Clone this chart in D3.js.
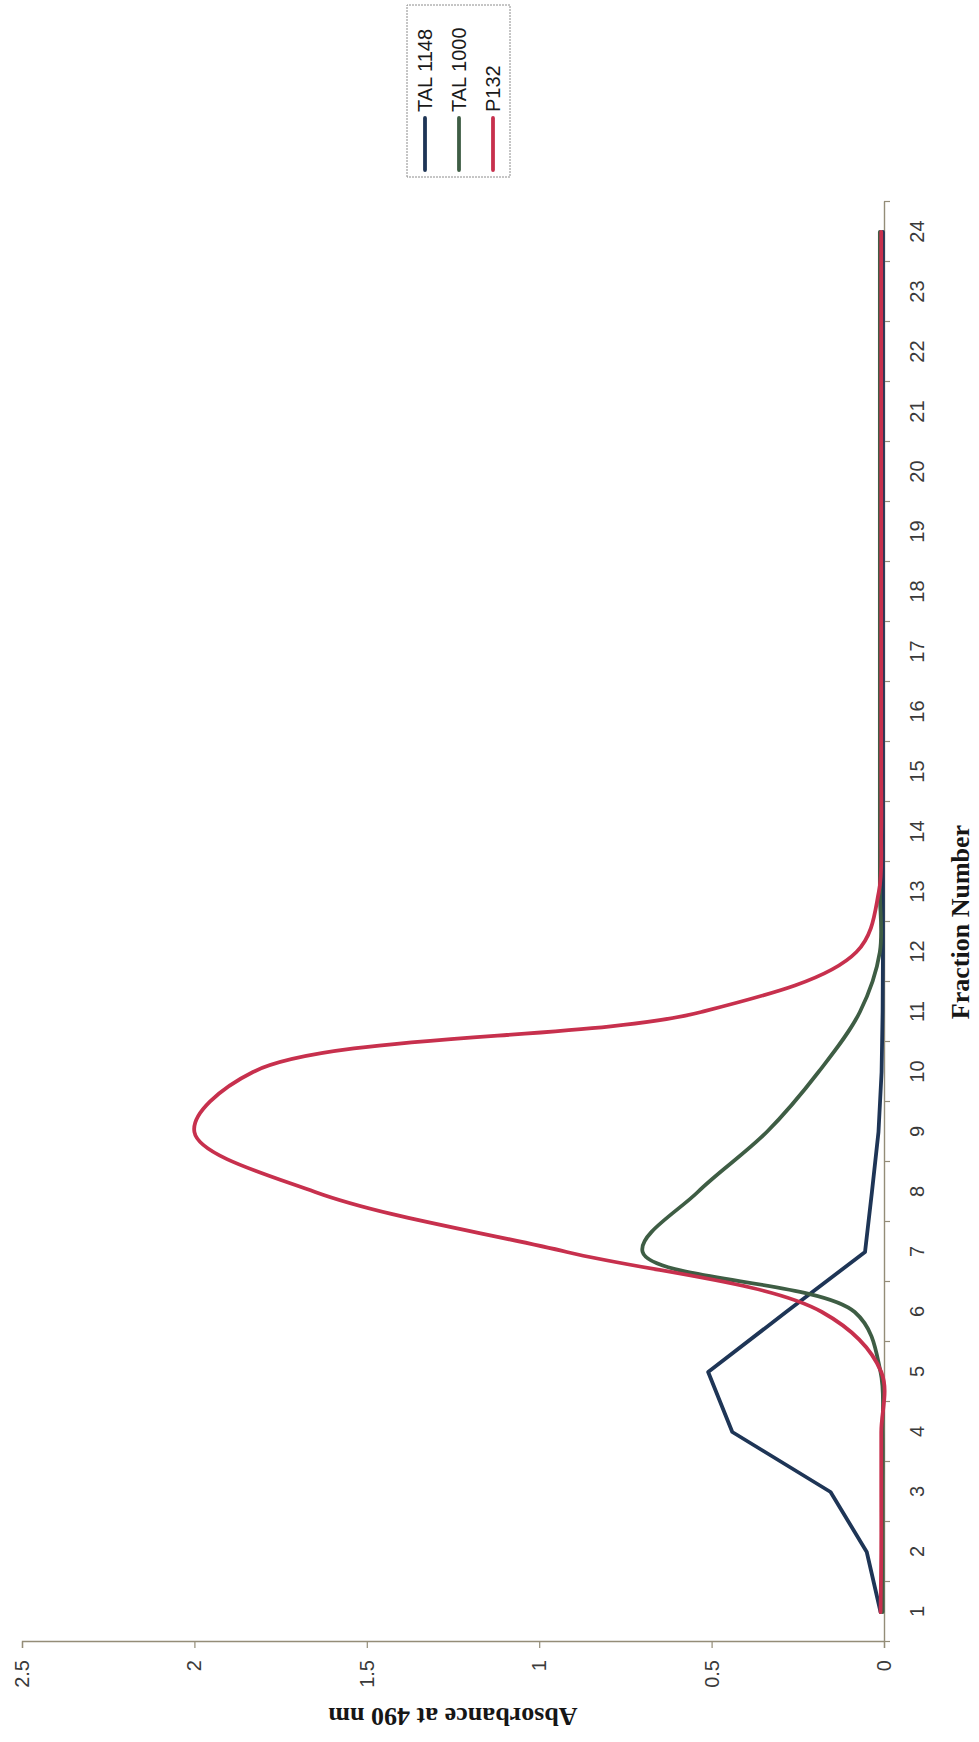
<!DOCTYPE html>
<html>
<head>
<meta charset="utf-8">
<script src="https://cdn.jsdelivr.net/npm/d3@7"></script>
<style>
  body { margin: 0; background: #fff; }
  text { font-family: "Liberation Sans", Arial, sans-serif; }
</style>
</head>
<body>
<div id="chart"></div>
<script>
// fraction number (category axis)
const fractions = [1, 2, 3, 4, 5, 6, 7, 8, 9, 10, 11, 12, 13, 14, 15, 16, 17, 18, 19, 20, 21, 22, 23, 24];

// absorbance at 490 nm, one value per fraction
const tal1148 = [0.01, 0.05, 0.155, 0.44, 0.51, 0.284, 0.055, 0.035, 0.016, 0.007, 0.004, 0.003, 0.003, 0.003,
                 0.003, 0.003, 0.003, 0.003, 0.003, 0.003, 0.003, 0.003, 0.003, 0.003];
const tal1000 = [0.004, 0.004, 0.004, 0.004, 0.01, 0.085, 0.70, 0.54, 0.34, 0.19, 0.07, 0.012, 0.012, 0.012,
                 0.012, 0.012, 0.012, 0.012, 0.012, 0.012, 0.012, 0.012, 0.012, 0.012];
const p132    = [0.01, 0.008, 0.008, 0.008, 0.008, 0.18, 0.92, 1.65, 2.0, 1.83, 0.53, 0.08, 0.015, 0.008,
                 0.008, 0.008, 0.008, 0.008, 0.008, 0.008, 0.008, 0.008, 0.008, 0.008];

const seriesNames = ["TAL 1148", "TAL 1000", "P132"];
const seriesColors = ["#1e3556", "#3e5d44", "#c7304d"];
const absTicks = [0, 0.5, 1, 1.5, 2, 2.5];

const W = 979, H = 1742;

const svg = d3.select("#chart")
  .append("svg")
  .attr("width", W)
  .attr("height", H);

svg.append("rect").attr("width", W).attr("height", H).attr("fill", "#fff");

// the chart is laid out landscape, then turned 90deg counter-clockwise
const g = svg.append("g")
  .attr("transform", `translate(0,${H}) rotate(-90)`);

const x = d3.scaleLinear().domain([0.5, 24.5]).range([100, 1540]);
const y = d3.scaleLinear().domain([0, 2.5]).range([884, 22]);

const axisColor = "#948d78";

// =========================
// VALUE AXIS
// =========================
const yAxis = g.append("g")
  .attr("transform", `translate(${x.range()[0]},0)`)
  .call(d3.axisLeft(y).tickValues(absTicks).tickSize(6).tickPadding(12).tickFormat(d => d));

yAxis.select(".domain").attr("stroke", axisColor).attr("stroke-width", 1.4);
yAxis.selectAll(".tick line").attr("stroke", axisColor).attr("stroke-width", 1.2);
yAxis.selectAll("text").attr("font-size", 20).attr("fill", "#3a3a3a");

// =========================
// FRACTION AXIS
// =========================
const bounds = fractions.map(f => f - 0.5).concat([fractions[fractions.length - 1] + 0.5]);

const xAxis = g.append("g")
  .attr("transform", `translate(0,${y(0)})`)
  .call(d3.axisBottom(x).tickValues(bounds).tickSize(6).tickSizeOuter(0).tickFormat(""));

xAxis.select(".domain").attr("stroke", axisColor).attr("stroke-width", 1.4);
xAxis.selectAll(".tick line").attr("stroke", axisColor).attr("stroke-width", 1.2);

const xLabels = g.append("g")
  .attr("transform", `translate(0,${y(0)})`)
  .call(d3.axisBottom(x).tickValues(fractions).tickSize(0).tickPadding(26).tickFormat(d => d));

xLabels.select(".domain").remove();
xLabels.selectAll("text").attr("font-size", 20).attr("fill", "#3a3a3a");

// =========================
// LINES
// =========================
const series = [
  { name: seriesNames[0], values: tal1148, color: seriesColors[0], curve: d3.curveLinear },
  { name: seriesNames[1], values: tal1000, color: seriesColors[1], curve: d3.curveCatmullRom },
  { name: seriesNames[2], values: p132,    color: seriesColors[2], curve: d3.curveCatmullRom }
];

series.forEach(s => {
  const line = d3.line()
    .x((d, i) => x(fractions[i]))
    .y(d => y(d))
    .curve(s.curve);

  g.append("path")
    .datum(s.values)
    .attr("d", line)
    .attr("fill", "none")
    .attr("stroke", s.color)
    .attr("stroke-width", 3.8)
    .attr("stroke-linejoin", "round")
    .attr("stroke-linecap", "round");
});

// =========================
// TITLES
// =========================
g.append("text")
  .attr("x", (x.range()[0] + x.range()[1]) / 2)
  .attr("y", y(0) + 85)
  .attr("text-anchor", "middle")
  .style("font-family", "'Liberation Serif', 'Times New Roman', serif")
  .style("font-weight", "bold")
  .style("font-size", "26px")
  .attr("fill", "#161616")
  .text("Fraction Number");

g.append("text")
  .attr("transform", `translate(25,${(y.range()[0] + y.range()[1]) / 2}) rotate(-90)`)
  .attr("dy", "0.35em")
  .attr("text-anchor", "middle")
  .style("font-family", "'Liberation Serif', 'Times New Roman', serif")
  .style("font-weight", "bold")
  .style("font-size", "26px")
  .attr("fill", "#161616")
  .text("Absorbance at 490 nm");

// =========================
// LEGEND
// =========================
const legend = g.append("g").attr("transform", "translate(1565,407)");

legend.append("rect")
  .attr("width", 172)
  .attr("height", 103)
  .attr("fill", "#fff")
  .attr("stroke", "#8c8c8c")
  .attr("stroke-width", 1)
  .attr("stroke-dasharray", "2,1");

series.forEach((s, i) => {
  const row = 18 + i * 34;
  legend.append("line")
    .attr("x1", 7).attr("x2", 59)
    .attr("y1", row).attr("y2", row)
    .attr("stroke", s.color)
    .attr("stroke-width", 3.8)
    .attr("stroke-linecap", "round");
  legend.append("text")
    .attr("x", 65)
    .attr("y", row)
    .attr("dy", "0.36em")
    .attr("font-size", 20)
    .attr("fill", "#1a1a1a")
    .text(s.name);
});
</script>
</body>
</html>
